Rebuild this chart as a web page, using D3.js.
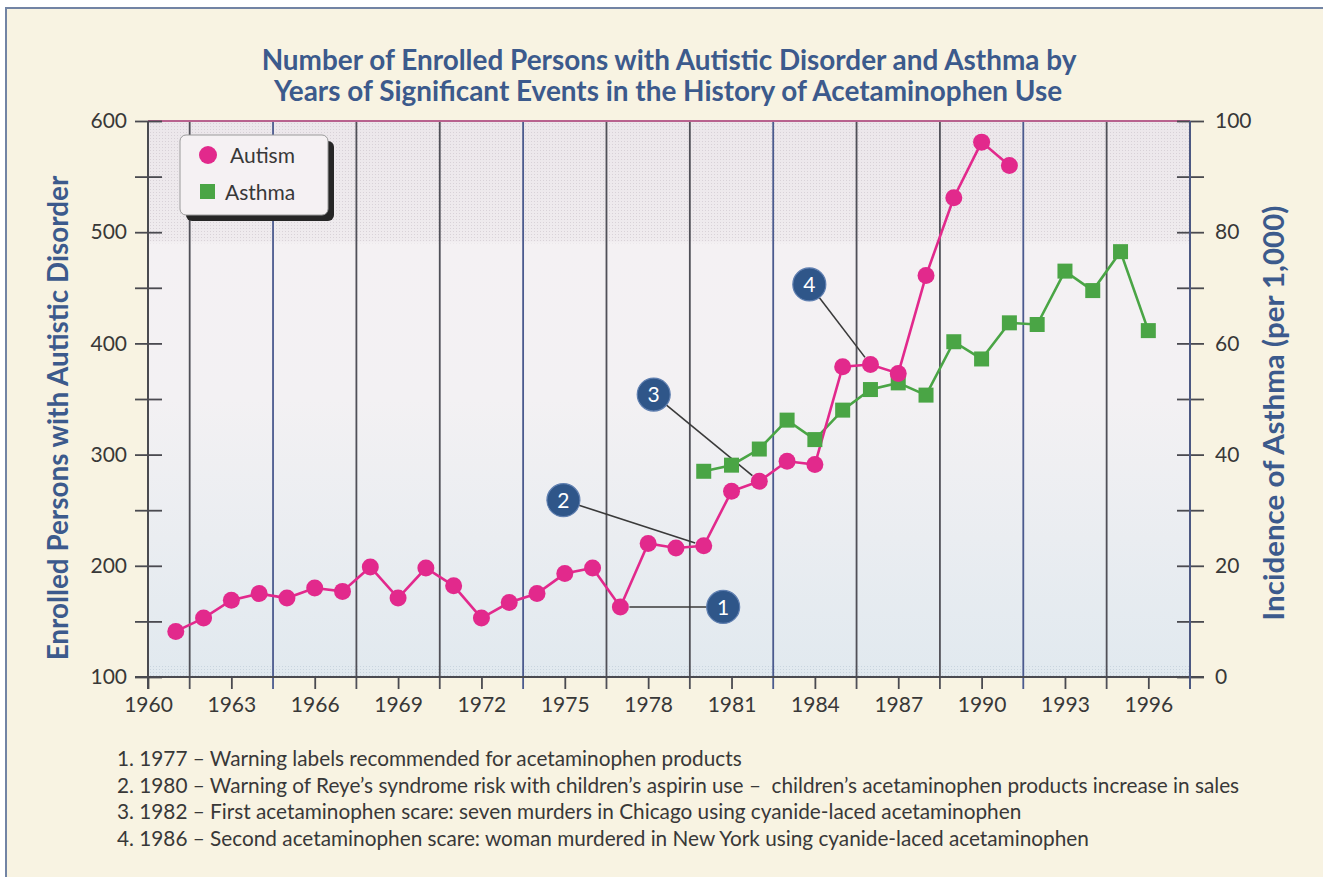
<!DOCTYPE html>
<html>
<head>
<meta charset="utf-8">
<script src="https://cdn.jsdelivr.net/npm/d3@7"></script>
<style>
  body { margin: 0; background: #fff; }
  svg text { font-family: Lato, "Open Sans", sans-serif; }
</style>
</head>
<body>
<svg id="chart" width="1323" height="877"></svg>
<script>
// values
const autismYears = [1961, 1962, 1963, 1964, 1965, 1966, 1967, 1968, 1969, 1970, 1971, 1972, 1973, 1974, 1975, 1976,
  1977, 1978, 1979, 1980, 1981, 1982, 1983, 1984, 1985, 1986, 1987, 1988, 1989, 1990, 1991];
const autismValues = [141, 153, 169, 175, 171, 180, 177, 199, 171, 198, 182, 153, 167, 175, 193, 198,
  163, 220, 216, 218, 267, 276, 294, 291, 379, 381, 373, 461, 531, 581, 560];

const asthmaYears = [1980, 1981, 1982, 1983, 1984, 1985, 1986, 1987, 1988, 1989, 1990, 1991, 1992, 1993, 1994, 1995, 1996];
const asthmaValues = [37, 38.1, 41, 46.2, 42.7, 48, 51.7, 52.9, 50.7, 60.3, 57.2, 63.7, 63.4, 73, 69.5, 76.5, 62.3];

const xLabelYears = [1960, 1963, 1966, 1969, 1972, 1975, 1978, 1981, 1984, 1987, 1990, 1993, 1996];
const gridYears = [1961.5, 1964.5, 1967.5, 1970.5, 1973.5, 1976.5, 1979.5, 1982.5, 1985.5, 1988.5, 1991.5, 1994.5];
const leftTicks = [100, 150, 200, 250, 300, 350, 400, 450, 500, 550, 600];
const leftLabels = [100, 200, 300, 400, 500, 600];
const rightTicks = [0, 10, 20, 30, 40, 50, 60, 70, 80, 90, 100];
const rightLabels = [0, 20, 40, 60, 80, 100];

// numbered call-outs: the autism year they point at, and where the badge sits
const noteYears = [1977, 1980, 1982, 1986];
const badgeYears = [1980.7, 1974.95, 1978.2, 1983.8];
const badgeValues = [163, 259, 354, 453];
const footnotes = [
  "1. 1977 \u2013 Warning labels recommended for acetaminophen products",
  "2. 1980 \u2013 Warning of Reye\u2019s syndrome risk with children\u2019s aspirin use \u2013\u00a0 children\u2019s acetaminophen products increase in sales",
  "3. 1982 \u2013 First acetaminophen scare: seven murders in Chicago using cyanide-laced acetaminophen",
  "4. 1986 \u2013 Second acetaminophen scare: woman murdered in New York using cyanide-laced acetaminophen"
];

const pink = "#e2298c", green = "#4aa545", navy = "#2f5689", titleBlue = "#3c5a8c", ink = "#383838";

const svg = d3.select("#chart");
const defs = svg.append("defs");

const x = d3.scaleLinear().domain([1960, 1997.5]).range([148, 1190]);
const yL = d3.scaleLinear().domain([100, 600]).range([677, 121]);
const yR = d3.scaleLinear().domain([0, 100]).range([677, 121]);
const plotTop = yL(600), plotBottom = yL(100), plotLeft = x(1960), plotRight = x(1997.5);

// page frame
svg.append("rect")
    .attr("x", 6).attr("y", 8).attr("width", 1330).attr("height", 900)
    .attr("fill", "#f8f3e2").attr("stroke", "#7284a4").attr("stroke-width", 2);

// plot background
const grad = defs.append("linearGradient").attr("id", "bg").attr("x1", 0).attr("y1", 0).attr("x2", 0).attr("y2", 1);
[[0, "#ece7eb"], [0.215, "#efebee"], [0.22, "#f4f1f3"], [0.5, "#f3f1f3"], [1, "#e1e9ef"]].forEach(s =>
  grad.append("stop").attr("offset", s[0]).attr("stop-color", s[1]));

const dots = defs.append("pattern").attr("id", "dots").attr("width", 3).attr("height", 3).attr("patternUnits", "userSpaceOnUse");
dots.append("rect").attr("width", 1).attr("height", 1).attr("fill", "#c2bac2");
const dotsB = defs.append("pattern").attr("id", "dotsB").attr("width", 3).attr("height", 3).attr("patternUnits", "userSpaceOnUse");
dotsB.append("rect").attr("width", 1).attr("height", 1).attr("fill", "#b0bfcd");

svg.append("rect").attr("x", plotLeft).attr("y", plotTop).attr("width", plotRight - plotLeft).attr("height", plotBottom - plotTop).attr("fill", "url(#bg)");
svg.append("rect").attr("x", plotLeft).attr("y", plotTop).attr("width", plotRight - plotLeft).attr("height", yL(490) - plotTop)
    .attr("fill", "url(#dots)").attr("opacity", 0.5);
svg.append("rect").attr("x", plotLeft).attr("y", yL(111)).attr("width", plotRight - plotLeft).attr("height", plotBottom - yL(111))
    .attr("fill", "url(#dotsB)").attr("opacity", 0.5);

// vertical grid lines (also the long x ticks)
svg.append("g").selectAll("line")
  .data(gridYears)
  .enter().append("line")
    .attr("x1", d => x(d)).attr("x2", d => x(d))
    .attr("y1", plotTop).attr("y2", plotBottom + 12)
    .attr("stroke", (d, i) => i % 3 === 1 ? "#4b5a8e" : "#505058")
    .attr("stroke-width", 1.8);

// top border
svg.append("line").attr("x1", plotLeft).attr("x2", plotRight).attr("y1", plotTop).attr("y2", plotTop)
    .attr("stroke", "#b8628e").attr("stroke-width", 2);

// x axis
const xAxis = d3.axisBottom(x).tickValues(xLabelYears).tickSize(12).tickPadding(5).tickFormat(d3.format("d"));
const gx = svg.append("g").attr("transform", `translate(0,${plotBottom})`).call(xAxis);
gx.select(".domain").remove();
gx.append("line").attr("x1", plotLeft - 13).attr("x2", plotRight + 14).attr("stroke", "#4a4a50").attr("stroke-width", 2);
gx.selectAll(".tick line").attr("stroke", "#4a4a50").attr("stroke-width", 1.8);
gx.selectAll(".tick text").attr("font-size", 21).attr("fill", ink).attr("dy", "0.85em");

// left axis
const yAxisL = d3.axisLeft(yL).tickValues(leftTicks).tickSize(13).tickPadding(8)
    .tickFormat(d => leftLabels.includes(d) ? d : "");
const gl = svg.append("g").attr("transform", `translate(${plotLeft},0)`).call(yAxisL);
gl.select(".domain").remove();
gl.append("line").attr("y1", plotTop).attr("y2", plotBottom + 12).attr("stroke", "#4a4a50").attr("stroke-width", 2);
gl.selectAll(".tick line").attr("x2", -13).attr("x1", 14).attr("stroke", "#4a4a50").attr("stroke-width", 1.8);
gl.selectAll(".tick text").attr("font-size", 21).attr("fill", ink);

// right axis
const yAxisR = d3.axisRight(yR).tickValues(rightTicks).tickSize(14).tickPadding(11)
    .tickFormat(d => rightLabels.includes(d) ? d : "");
const gr = svg.append("g").attr("transform", `translate(${plotRight},0)`).call(yAxisR);
gr.select(".domain").remove();
gr.append("line").attr("y1", plotTop).attr("y2", plotBottom + 12).attr("stroke", "#4c5882").attr("stroke-width", 2);
gr.selectAll(".tick line").attr("x1", -13).attr("x2", 14).attr("stroke", "#4a4a50").attr("stroke-width", 1.8);
gr.selectAll(".tick text").attr("font-size", 21).attr("fill", ink);

// series
const autism = autismYears.map((yr, i) => ({ year: yr, value: autismValues[i] }));
const asthma = asthmaYears.map((yr, i) => ({ year: yr, value: asthmaValues[i] }));

svg.append("path").datum(asthma)
    .attr("fill", "none").attr("stroke", green).attr("stroke-width", 2.6)
    .attr("d", d3.line().x(d => x(d.year)).y(d => yR(d.value)));
svg.append("path").datum(autism)
    .attr("fill", "none").attr("stroke", pink).attr("stroke-width", 2.6)
    .attr("d", d3.line().x(d => x(d.year)).y(d => yL(d.value)));

// call-out leader lines
const notes = noteYears.map((yr, i) => {
  const p = autism.find(a => a.year === yr);
  return { n: i + 1, px: x(p.year), py: yL(p.value), bx: x(badgeYears[i]), by: yL(badgeValues[i]) };
});
svg.append("g").selectAll("line")
  .data(notes)
  .enter().append("line")
    .attr("x1", d => d.bx).attr("y1", d => d.by)
    .attr("x2", d => { const L = Math.hypot(d.px - d.bx, d.py - d.by); return d.px - (d.px - d.bx) * 9 / L; })
    .attr("y2", d => { const L = Math.hypot(d.px - d.bx, d.py - d.by); return d.py - (d.py - d.by) * 9 / L; })
    .attr("stroke", "#3a3a3a").attr("stroke-width", 1.6);

svg.append("g").selectAll("rect")
  .data(asthma)
  .enter().append("rect")
    .attr("x", d => x(d.year) - 7.5).attr("y", d => yR(d.value) - 7.5)
    .attr("width", 15).attr("height", 15)
    .attr("fill", green);

svg.append("g").selectAll("circle")
  .data(autism)
  .enter().append("circle")
    .attr("cx", d => x(d.year)).attr("cy", d => yL(d.value)).attr("r", 8.5)
    .attr("fill", pink);

// badges
const badge = svg.append("g").selectAll("g")
  .data(notes)
  .enter().append("g")
    .attr("transform", d => `translate(${d.bx},${d.by})`);
badge.append("circle").attr("r", 16.5).attr("fill", navy).attr("stroke", "#5f7fb0").attr("stroke-width", 1.2);
badge.append("text").attr("text-anchor", "middle").attr("dy", "0.36em")
    .attr("font-size", 21).attr("fill", "#fff").text(d => d.n);

// legend
const lg = svg.append("g").attr("transform", "translate(180,135)");
lg.append("rect").attr("x", 6).attr("y", 6).attr("width", 148).attr("height", 80).attr("rx", 6).attr("fill", "#262626");
lg.append("rect").attr("width", 148).attr("height", 80).attr("rx", 6).attr("fill", "#f5f1f3").attr("stroke", "#9a9a9a").attr("stroke-width", 1);
lg.append("circle").attr("cx", 28).attr("cy", 20).attr("r", 9).attr("fill", pink);
lg.append("rect").attr("x", 20).attr("y", 49).attr("width", 15).attr("height", 15).attr("fill", green);
lg.append("text").attr("x", 50).attr("y", 28).attr("font-size", 21).attr("fill", ink).text("Autism");
lg.append("text").attr("x", 45).attr("y", 65).attr("font-size", 21).attr("fill", ink).text("Asthma");

// titles
function fitWidth(sel, w) {
  const len = sel.node().getComputedTextLength();
  sel.attr("font-size", +sel.attr("font-size") * w / len);
  return sel;
}
const t1 = svg.append("text").attr("x", 669).attr("y", 70).attr("text-anchor", "middle")
    .attr("font-size", 24).attr("font-weight", "bold").attr("fill", titleBlue)
    .text("Number of Enrolled Persons with Autistic Disorder and Asthma by");
fitWidth(t1, 815);
svg.append("text").attr("x", 668).attr("y", 101).attr("text-anchor", "middle")
    .attr("font-size", t1.attr("font-size")).attr("font-weight", "bold").attr("fill", titleBlue)
    .text("Years of Significant Events in the History of Acetaminophen Use");

const ylt = svg.append("text").attr("transform", "translate(68,418) rotate(-90)").attr("text-anchor", "middle")
    .attr("font-size", 23).attr("font-weight", "bold").attr("fill", titleBlue)
    .text("Enrolled Persons with Autistic Disorder");
fitWidth(ylt, 485);
const yrt = svg.append("text").attr("transform", "translate(1284,413) rotate(-90)").attr("text-anchor", "middle")
    .attr("font-size", 23).attr("font-weight", "bold").attr("fill", titleBlue)
    .text("Incidence of Asthma (per 1,000)");
fitWidth(yrt, 415);

// footnotes
const fn = svg.append("g").selectAll("text")
  .data(footnotes)
  .enter().append("text")
    .attr("x", 117).attr("y", (d, i) => 766 + i * 26.7)
    .attr("font-size", 18).attr("fill", ink)
    .text(d => d);
const f2 = d3.select(fn.nodes()[1]);
const fs = 18 * 1123 / f2.node().getComputedTextLength();
fn.attr("font-size", fs);
</script>
</body>
</html>
